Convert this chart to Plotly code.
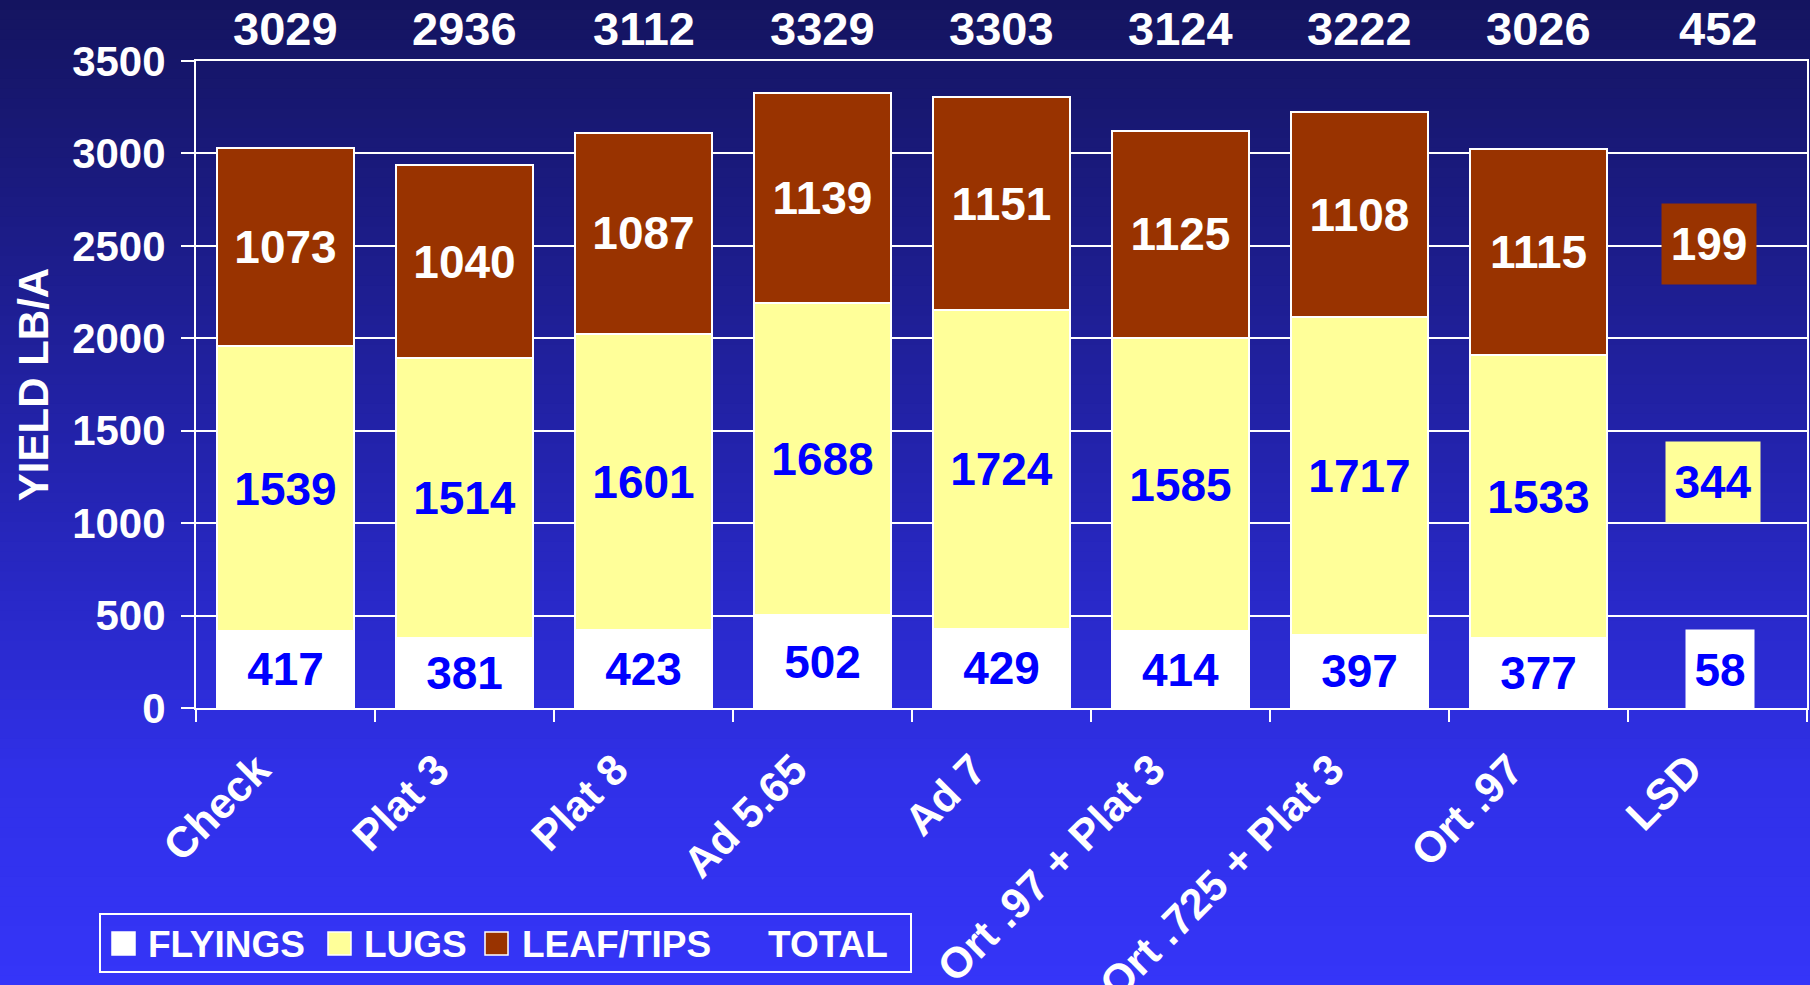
import plotly.graph_objects as go

# ---- data ----
categories = ["Check", "Plat 3", "Plat 8", "Ad 5.65", "Ad 7",
              "Ort .97 + Plat 3", "Ort .725 + Plat 3", "Ort .97", "LSD"]
treatments = categories[:8]
flyings = [417, 381, 423, 502, 429, 414, 397, 377]
lugs = [1539, 1514, 1601, 1688, 1724, 1585, 1717, 1533]
leaf_tips = [1073, 1040, 1087, 1139, 1151, 1125, 1108, 1115]
totals = [3029, 2936, 3112, 3329, 3303, 3124, 3222, 3026, 452]
lsd_flyings, lsd_lugs, lsd_leaf = 58, 344, 199
y_ticks = [0, 500, 1000, 1500, 2000, 2500, 3000, 3500]
legend_names = ["FLYINGS", "LUGS", "LEAF/TIPS", "TOTAL"]

# ---- style ----
W, H = 1810, 985
ML, MR, MT, MB = 196, 3, 61, 277
PW, PH = W - ML - MR, H - MT - MB
FONT = "Liberation Sans, Arial, sans-serif"
C_FLY, C_LUG, C_LEAF = "#ffffff", "#ffff99", "#993300"
BLUE_TXT = "#0000ff"


def px_x(px):
    return (px - ML) / PW


def px_y(py):
    return (MT + PH - py) / PH


fig = go.Figure()


def add_bar(name, vals, color, txtcolor):
    fig.add_trace(go.Bar(
        name=name, x=treatments, y=vals,
        marker=dict(color=color, line=dict(color="white", width=2)),
        text=[str(v) for v in vals], textposition="inside",
        insidetextanchor="middle", constraintext="none",
        textfont=dict(family=FONT, size=46, color=txtcolor, weight="bold"),
        hoverinfo="skip", showlegend=False,
    ))


add_bar(legend_names[0], flyings, C_FLY, BLUE_TXT)
add_bar(legend_names[1], lugs, C_LUG, BLUE_TXT)
add_bar(legend_names[2], leaf_tips, C_LEAF, "white")

# gradient background (piecewise linear, pixel stops)
stops = [(0, (20, 20, 95)), (485, (36, 36, 178)), (775, (48, 48, 232)), (985, (53, 53, 248))]


def grad(py):
    for (a, ca), (b, cb) in zip(stops[:-1], stops[1:]):
        if a <= py <= b:
            f = (py - a) / (b - a)
            return tuple(round(ca[k] + (cb[k] - ca[k]) * f) for k in range(3))
    return stops[-1][1]


shapes = []
n = 100
for i in range(n):
    py0 = H * i / n
    py1 = H * (i + 1) / n + 1
    c = grad((py0 + py1) / 2)
    shapes.append(dict(type="rect", xref="paper", yref="paper", layer="below",
                       x0=px_x(-2), x1=px_x(W + 2), y0=px_y(py1), y1=px_y(py0 - (2 if i == 0 else 0)),
                       fillcolor="rgb(%d,%d,%d)" % c, line=dict(width=0)))

annotations = []
for cat, t in zip(categories, totals):
    annotations.append(dict(x=cat, y=1, xref="x", yref="paper", yanchor="middle",
                            yshift=33, text=str(t), showarrow=False,
                            font=dict(family=FONT, size=47, color="white", weight="bold")))

# LSD label boxes: (value, fill, text colour, centre y, width px, height px, xshift)
lsd_boxes = [
    (lsd_flyings, C_FLY, BLUE_TXT, 209, 68, 79, 2),
    (lsd_lugs, C_LUG, BLUE_TXT, 1220, 94, 80, -5),
    (lsd_leaf, C_LEAF, "white", 2511, 94, 80, -9),
]
for v, bg, tc, yc, w, h, xs in lsd_boxes:
    annotations.append(dict(x="LSD", y=yc, xref="x", yref="y", text=str(v),
                            showarrow=False, bgcolor=bg, width=w, height=h,
                            borderpad=0, xshift=xs, valign="middle",
                            font=dict(family=FONT, size=46, color=tc, weight="bold")))

# custom legend: frame, swatches, labels (pixel positions)
LEG_TOP, LEG_BOT, LEG_L, LEG_R = 914, 972, 100, 911
shapes.append(dict(type="rect", xref="paper", yref="paper",
                   x0=px_x(LEG_L), x1=px_x(LEG_R), y0=px_y(LEG_BOT), y1=px_y(LEG_TOP),
                   line=dict(color="white", width=2), fillcolor="rgba(0,0,0,0)"))
legend_items = [  # (swatch left px or None, fill, text left px)
    (112, C_FLY, 148),
    (328, C_LUG, 364),
    (485, C_LEAF, 522),
    (None, None, 768),
]
ymid = (LEG_TOP + LEG_BOT) / 2
for name, (sx, col, tx) in zip(legend_names, legend_items):
    if sx is not None:
        shapes.append(dict(type="rect", xref="paper", yref="paper",
                           x0=px_x(sx), x1=px_x(sx + 23), y0=px_y(ymid + 12), y1=px_y(ymid - 11),
                           fillcolor=col, line=dict(color="white", width=1.5)))
    annotations.append(dict(x=px_x(tx - 2), y=px_y(ymid + 1), xref="paper", yref="paper",
                            xanchor="left", yanchor="middle", text=name, showarrow=False,
                            font=dict(family=FONT, size=37, color="white", weight="bold")))

fig.update_layout(
    width=W, height=H,
    margin=dict(l=ML, r=MR, t=MT, b=MB, autoexpand=False),
    barmode="stack", bargap=0.24,
    paper_bgcolor="rgb(40,40,190)", plot_bgcolor="rgba(0,0,0,0)",
    shapes=shapes, annotations=annotations,
    font=dict(family=FONT, color="white", weight="bold"),
    showlegend=False,
    xaxis=dict(categoryorder="array", categoryarray=categories, range=[-0.5, 8.5],
               showline=True, linecolor="white", linewidth=2, mirror=True,
               ticks="outside", tickson="boundaries", ticklen=12, tickcolor="white",
               tickwidth=2, tickangle=-45, automargin=False,
               ticklabelshift=-28, ticklabelstandoff=17,
               tickfont=dict(family=FONT, size=43, color="white", weight="bold")),
    yaxis=dict(range=[0, 3500], tickvals=y_ticks, showgrid=True, gridcolor="white",
               gridwidth=2, showline=True, linecolor="white", linewidth=2, mirror=True,
               ticks="outside", ticklen=13, tickcolor="white", tickwidth=2,
               zeroline=False, automargin=False, ticklabelstandoff=7,
               tickfont=dict(family=FONT, size=42, color="white", weight="bold"),
               title=dict(text="YIELD LB/A", standoff=10,
                          font=dict(family=FONT, size=42, color="white", weight="bold"))),
)

fig.write_html("out.html", config={"displayModeBar": False},
               post_script="document.body.style.margin='0';")
